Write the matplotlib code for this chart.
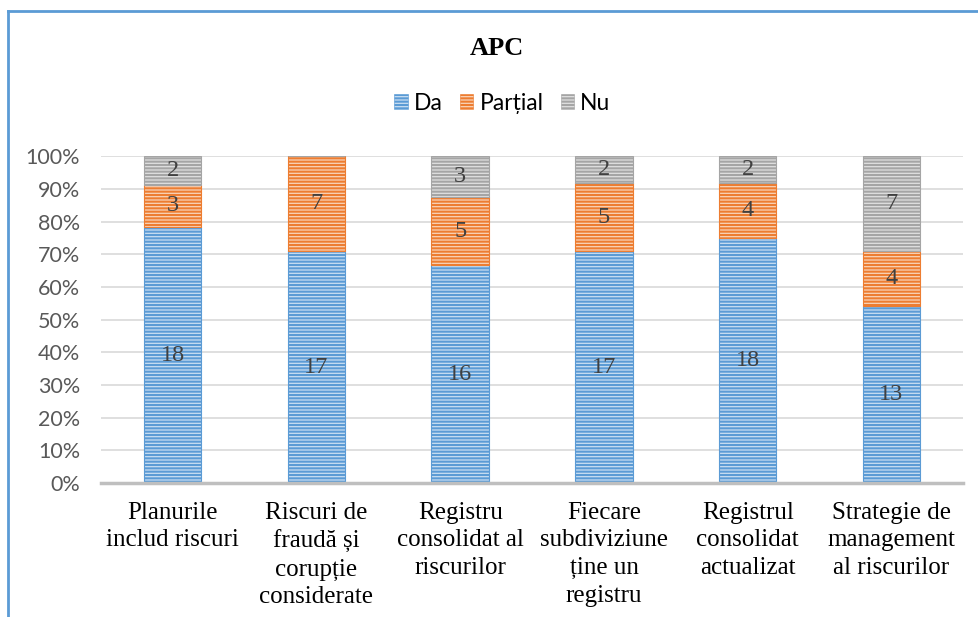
import numpy as np
import matplotlib.pyplot as plt
from matplotlib.lines import Line2D

categories = ['Planurile\ninclud riscuri',
              'Riscuri de\nfraudă și\ncorupție\nconsiderate',
              'Registru\nconsolidat al\nriscurilor',
              'Fiecare\nsubdiviziune\nține un\nregistru',
              'Registrul\nconsolidat\nactualizat',
              'Strategie de\nmanagement\nal riscurilor']
da = [18, 17, 16, 17, 18, 13]
partial = [3, 7, 5, 5, 4, 4]
nu = [2, 0, 3, 2, 2, 7]
series_names = ['Da', 'Parțial', 'Nu']

plt.rcParams['hatch.linewidth'] = 1.5

fig = plt.figure(figsize=(9.79, 6.17), dpi=100)
ax = fig.add_axes([0.103, 0.217, 0.881, 0.530])

counts = np.array([da, partial, nu], dtype=float)
totals = counts.sum(axis=0)
shares = counts / totals * 100
x = np.arange(len(categories))

faces = ['#C9DEF2', '#F9D3B8', '#E0E0E0']
stripes = ['#5B9BD5', '#ED7D31', '#A5A5A5']

bottom = np.zeros(len(categories))
for i, name in enumerate(series_names):
    ax.bar(x, shares[i], 0.4, bottom=bottom, color=faces[i],
           edgecolor=stripes[i], linewidth=0.8, hatch='-----', zorder=2)
    for j in range(len(categories)):
        if counts[i, j] > 0:
            ax.text(x[j], bottom[j] + shares[i, j] / 2, '%d' % counts[i, j],
                    ha='center', va='center', fontsize=17.5,
                    family='Liberation Serif', color='#404040', zorder=3)
    bottom += shares[i]

ax.set_xlim(-0.5, len(categories) - 0.5)
ax.set_ylim(0, 100)
ax.set_yticks(np.arange(0, 101, 10))
ax.set_yticklabels(['%d%%' % v for v in range(0, 101, 10)],
                   family='Lato', fontsize=15.5, color='#595959')
ax.set_xticks(x)
ax.set_xticklabels(categories, family='Liberation Serif', fontsize=18,
                   color='black', linespacing=1.33, va='top')
ax.tick_params(length=0)
ax.tick_params(axis='x', pad=13.5)
ax.tick_params(axis='y', pad=15)
ax.grid(axis='y', color='#D9D9D9', linewidth=1.2, zorder=0)
for s in ['top', 'right', 'left']:
    ax.spines[s].set_visible(False)
ax.spines['bottom'].set_color('#BFBFBF')
ax.spines['bottom'].set_linewidth(2.5)

fig.text(0.508, 0.922, 'APC', ha='center', va='center', fontsize=19,
         weight='bold', family='Liberation Serif')

handles = [plt.Rectangle((0, 0), 1, 1, facecolor=faces[i], edgecolor=stripes[i],
                         linewidth=0.4, hatch='-----') for i in range(3)]
fig.legend(handles, series_names, loc='center', bbox_to_anchor=(0.513, 0.833),
           ncol=3, frameon=False, prop={'family': 'Lato', 'size': 16.5},
           handlelength=0.6, handleheight=0.6, handletextpad=0.26,
           columnspacing=0.75)

# outer chart frame (top and left edges visible)
fig.add_artist(Line2D([0.0082, 0.0082], [0, 0.982], color='#5B9BD5',
                      linewidth=2, transform=fig.transFigure))
fig.add_artist(Line2D([0.0082, 1], [0.982, 0.982], color='#5B9BD5',
                      linewidth=2, transform=fig.transFigure))

fig.savefig('out.png', dpi=100)
